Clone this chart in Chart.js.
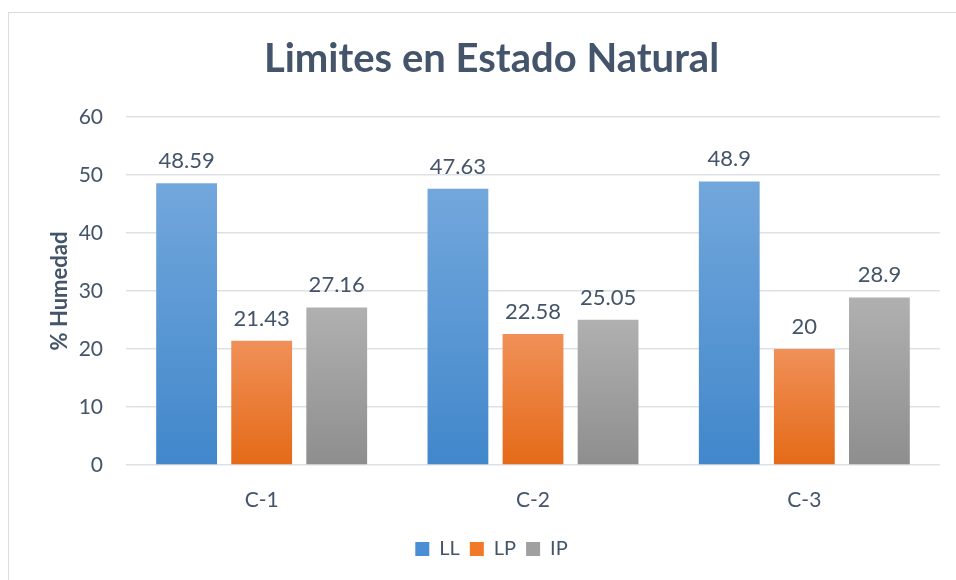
<!DOCTYPE html>
<html>
<head>
<meta charset="utf-8">
<script src="https://cdn.jsdelivr.net/npm/chart.js@4/dist/chart.umd.min.js"></script>
<style>
  html, body { margin: 0; padding: 0; background: #fff; overflow: hidden; width: 956px; height: 580px; }
  #frame { position: absolute; left: 8px; top: 12px; width: 980px; height: 600px; border: 1.5px solid #D9DDE3; box-sizing: border-box; }
  #wrap { position: absolute; left: 8px; top: 0px; width: 964px; height: 580px; }
</style>
</head>
<body>
<div id="frame"></div>
<div id="wrap"><canvas id="c" width="964" height="580"></canvas></div>
<script>
const categories = ["C-1", "C-2", "C-3"];
const seriesNames = ["LL", "LP", "IP"];
const llValues = [48.59, 47.63, 48.9];
const lpValues = [21.43, 22.58, 20];
const ipValues = [27.16, 25.05, 28.9];
const yTicks = [0, 10, 20, 30, 40, 50, 60];

const textColor = '#44546A';
const fontFamily = "Lato, 'Open Sans', sans-serif";

const palettes = [
  { top: '#72A7DC', bottom: '#4187CB', solid: '#4A8FD4' },
  { top: '#F09058', bottom: '#E46A17', solid: '#F07A28' },
  { top: '#B0B0B0', bottom: '#8E8E8E', solid: '#A0A0A0' }
];

function gradFill(idx) {
  return function(ctx) {
    const chart = ctx.chart;
    const p = palettes[idx];
    if (!chart.chartArea || ctx.raw === undefined) return p.solid;
    const ys = chart.scales.y;
    const yTop = ys.getPixelForValue(ctx.raw);
    const yBot = ys.getPixelForValue(0);
    const g = chart.ctx.createLinearGradient(0, yTop, 0, yBot);
    g.addColorStop(0, p.top);
    g.addColorStop(1, p.bottom);
    return g;
  };
}

const valueLabels = {
  id: 'valueLabels',
  afterDatasetsDraw(chart) {
    const ctx = chart.ctx;
    ctx.save();
    ctx.font = "22px " + fontFamily;
    ctx.fillStyle = textColor;
    ctx.textAlign = 'center';
    ctx.textBaseline = 'alphabetic';
    chart.data.datasets.forEach((ds, i) => {
      const meta = chart.getDatasetMeta(i);
      meta.data.forEach((el, j) => {
        ctx.fillText(String(ds.data[j]), el.x, el.y - 15);
      });
    });
    ctx.restore();
  }
};

const seriesData = [llValues, lpValues, ipValues];

new Chart(document.getElementById('c'), {
  type: 'bar',
  data: {
    labels: categories,
    datasets: seriesNames.map((name, i) => ({
      label: name,
      data: seriesData[i],
      backgroundColor: gradFill(i),
      borderWidth: 0,
      categoryPercentage: 0.83,
      barPercentage: 0.81
    }))
  },
  options: {
    responsive: false,
    animation: false,
    devicePixelRatio: 1,
    layout: { padding: { left: 35, right: 32, top: 0, bottom: 11 } },
    plugins: {
      title: {
        display: true,
        text: 'Limites en Estado Natural',
        color: textColor,
        font: { family: fontFamily, size: 40, weight: 'bold' },
        padding: { top: 35, bottom: 34 }
      },
      legend: {
        position: 'bottom',
        labels: {
          color: textColor,
          font: { family: fontFamily, size: 20 },
          boxWidth: 14,
          boxHeight: 14,
          padding: 10,
          generateLabels(chart) {
            return chart.data.datasets.map((ds, i) => ({
              text: ds.label,
              fillStyle: palettes[i].solid,
              strokeStyle: palettes[i].solid,
              lineWidth: 0,
              fontColor: textColor,
              datasetIndex: i,
              hidden: false
            }));
          }
        }
      },
      tooltip: { enabled: false },
      valueLabels: {}
    },
    scales: {
      x: {
        grid: { display: false },
        border: { display: false },
        ticks: { color: textColor, font: { family: fontFamily, size: 21 }, padding: 15 },
        afterFit(scale) { scale.height = 64; }
      },
      y: {
        min: 0,
        max: 60,
        afterBuildTicks(scale) { scale.ticks = yTicks.map(v => ({ value: v })); },
        afterFit(scale) { scale.width = 83; },
        grid: { color: '#DDE1E6', lineWidth: 1.5, drawTicks: false },
        border: { display: false },
        ticks: { color: textColor, font: { family: fontFamily, size: 21 }, padding: 23 },
        title: {
          display: true,
          text: '% Humedad',
          color: textColor,
          font: { family: fontFamily, size: 22, weight: 'bold' },
          padding: { top: 4, bottom: 2 }
        }
      }
    }
  },
  plugins: [valueLabels]
});
</script>
</body>
</html>
